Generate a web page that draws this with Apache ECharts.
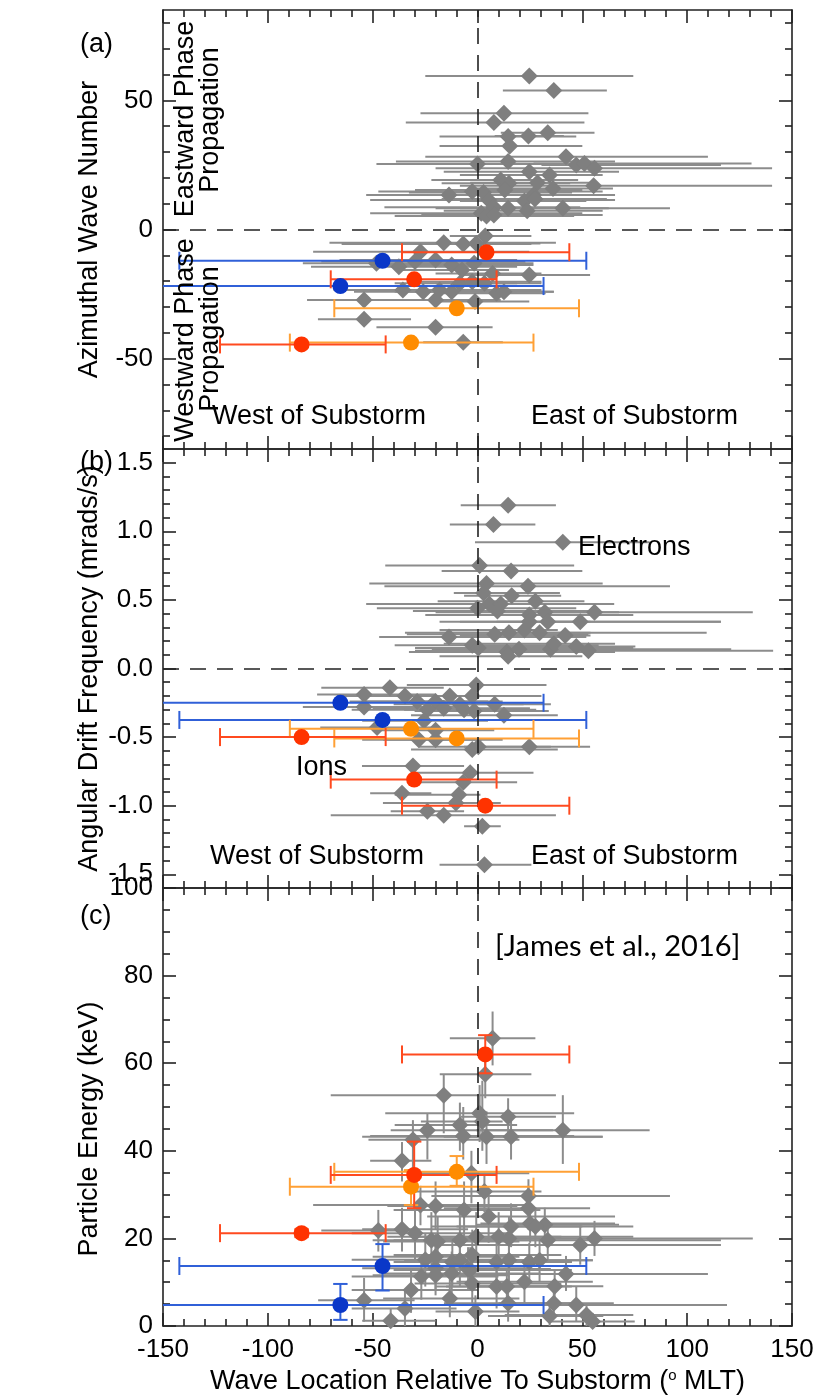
<!DOCTYPE html>
<html>
<head>
<meta charset="utf-8">
<script src="https://cdn.jsdelivr.net/npm/echarts@6/dist/echarts.min.js"></script>
<style>html,body{margin:0;padding:0;background:#fff}#c{width:836px;height:1396px}</style>
</head>
<body>
<div id="c"></div>
<script>
// ---------------- tick values ----------------
const aYMajor = [-50, 0, 50];
const aYMinor = [-80, -70, -60, -40, -30, -20, -10, 10, 20, 30, 40, 60, 70, 80];
const bYMajor = [-1.5, -1.0, -0.5, 0, 0.5, 1.0, 1.5];
const bYMinor = [-1.4, -1.3, -1.2, -1.1, -0.9, -0.8, -0.7, -0.6, -0.4, -0.3, -0.2, -0.1, 0.1, 0.2, 0.3, 0.4, 0.6, 0.7, 0.8, 0.9, 1.1, 1.2, 1.3, 1.4];
const cYMajor = [0, 20, 40, 60, 80, 100];
const cYMinor = [5, 10, 15, 25, 30, 35, 45, 50, 55, 65, 70, 75, 85, 90, 95];

// ---------------- panel (a): [x, y, xLow, xHigh] ----------------
const aGrey = [
  [24.7, 59.4, -24.9, 74.3], [36.4, 53.8, 12.1, 61.7], [12.6, 45.0, -27.2, 52.9], [7.8, 41.4, -34.2, 51.0],
  [14.6, 36.0, -18.1, 47.1], [24.3, 36.2, 8.2, 41.2], [33.5, 37.5, 11.1, 55.8], [15.4, 32.3, -18.1, 50.0],
  [42.2, 28.2, -24.9, 109.9], [0.0, 25.4, -48.2, 74.3], [14.6, 26.3, -38.9, 65.6], [47.1, 25.0, 30.5, 116.1],
  [51.0, 25.6, 26.7, 130.7], [55.8, 23.7, -20.0, 140.5], [24.7, 22.4, -16.1, 67.5], [34.4, 21.1, -8.4, 59.7],
  [11.1, 19.2, -22.0, 48.0], [15.0, 17.9, -17.1, 44.2], [55.4, 16.9, -8.4, 140.5], [28.6, 18.1, -3.5, 55.8],
  [36.0, 15.9, -0.6, 64.6], [-13.6, 13.4, -53.1, 57.8], [-2.5, 14.7, -47.3, 59.7], [2.9, 14.3, -32.7, 45.1],
  [13.0, 15.3, -29.8, 50.0], [26.7, 13.4, -23.9, 65.6], [5.3, 11.4, -51.2, 65.6], [22.4, 11.0, -8.4, 51.9],
  [27.4, 11.8, -17.1, 61.7], [40.7, 8.2, -8.4, 91.8], [7.8, 8.6, -44.4, 49.0], [14.6, 8.2, -20.0, 62.6],
  [23.7, 7.3, -16.1, 59.7], [1.8, 6.3, -51.2, 50.0], [4.3, 5.2, -39.5, 46.1], [7.8, 5.6, -26.8, 59.7],
  [3.7, -2.5, -13.2, 25.7], [-16.1, -5.1, -70.6, 37.4], [-6.8, -5.6, -64.8, 25.7], [-0.6, -5.4, -40.0, 30.0],
  [-27.2, -8.6, -78.4, 24.7], [-48.2, -13.1, -83.3, 26.7], [-37.5, -14.4, -79.4, 18.9], [-29.8, -12.4, -74.5, 22.8],
  [-20.0, -11.8, -65.8, 18.9], [-12.3, -13.7, -47.3, 26.7], [-7.4, -15.7, -35.6, 15.0], [-1.6, -13.1, -31.7, 22.8],
  [7.2, -17.0, -20.0, 30.5], [24.7, -17.6, -6.4, 53.7], [-8.4, -20.8, -39.5, 18.9], [-2.5, -20.2, -31.7, 30.5],
  [3.3, -20.8, -20.0, 30.5], [-35.6, -23.4, -68.7, 13.0], [-25.9, -24.1, -58.9, 18.9], [-18.1, -23.4, -47.3, 30.5],
  [-12.3, -24.1, -39.5, 36.4], [9.1, -24.7, -16.1, 32.5], [12.6, -24.1, -8.4, 36.4], [-54.1, -27.3, -81.3, -20.0],
  [-20.0, -27.3, -47.3, 11.1], [-1.2, -27.9, -20.0, 24.7], [-54.1, -34.8, -76.1, -31.7], [-20.0, -37.9, -48.2, 7.2],
  [-6.8, -43.7, -25.9, 12.1]
];
const aBlue = [[-45.3, -12.1, -142.2, 51.9], [-65.4, -21.9, -160.0, 31.5]];
const aRed = [[4.3, -8.8, -36.0, 43.8], [-30.2, -19.3, -70.0, 9.1], [-83.9, -44.5, -122.8, -43.8]];
const aOrange = [[-9.9, -30.5, -68.3, 48.4], [-31.7, -43.8, -89.5, 26.7]];

// ---------------- panel (b): [x, y, xLow, xHigh] ----------------
const bGrey = [
  [14.6, 1.19, -8.0, 37.4], [7.6, 1.05, -13.2, 27.6], [40.7, 0.92, -1.2, 82.1], [1.0, 0.75, -44.0, 46.1],
  [16.0, 0.71, -17.1, 50.0], [4.3, 0.62, -51.6, 59.7], [24.1, 0.60, -44.4, 91.8], [2.9, 0.55, -11.3, 39.3],
  [16.3, 0.53, -6.4, 39.9], [5.6, 0.47, -53.1, 65.2], [11.1, 0.47, -47.9, 50.0], [27.6, 0.49, -19.0, 51.0],
  [0.0, 0.44, -48.0, 47.1], [9.5, 0.42, -30.8, 55.8], [55.8, 0.41, 30.5, 131.3], [24.7, 0.39, -24.9, 74.3],
  [32.1, 0.41, -20.0, 67.5], [24.7, 0.34, -18.1, 53.9], [33.5, 0.34, -8.4, 116.1], [49.0, 0.34, 9.1, 116.1],
  [-13.6, 0.23, -46.9, 51.9], [8.2, 0.25, -33.7, 52.9], [15.0, 0.26, -34.6, 53.9], [22.4, 0.28, -18.1, 38.3],
  [29.6, 0.26, -18.1, 109.3], [41.8, 0.24, -8.4, 53.9], [-2.5, 0.17, -39.5, 57.8], [0.4, 0.15, -29.8, 74.3],
  [14.0, 0.12, -32.7, 65.6], [19.8, 0.14, -21.8, 63.8], [34.8, 0.14, -18.1, 121.0], [36.4, 0.18, -16.1, 65.6],
  [47.1, 0.16, -0.6, 75.3], [52.9, 0.13, -29.8, 141.0], [14.6, 0.09, -18.1, 50.0],
  [-0.6, -0.12, -33.7, 32.9], [-41.8, -0.14, -74.5, -16.1], [-54.1, -0.19, -76.5, -20.0], [-34.6, -0.20, -66.8, -2.5],
  [-13.2, -0.20, -53.1, 20.8], [-2.5, -0.20, -35.6, 30.5], [-28.8, -0.24, -61.0, 5.0], [-20.0, -0.24, -54.0, 12.0],
  [-8.4, -0.26, -40.0, 22.0], [8.2, -0.26, -20.0, 35.0], [-54.1, -0.28, -83.3, -4.5], [-23.9, -0.30, -60.0, 10.0],
  [-16.1, -0.29, -50.0, 25.0], [-6.4, -0.30, -35.0, 28.0], [-1.6, -0.31, -30.0, 34.0], [12.6, -0.34, -31.7, 38.3],
  [-47.9, -0.43, -75.0, -20.0], [-25.5, -0.38, -55.0, 5.0], [-20.0, -0.45, -50.0, 8.0], [-28.0, -0.52, -55.0, 2.0],
  [-20.0, -0.52, -45.0, 12.0], [-2.5, -0.59, -31.7, 38.3], [0.4, -0.57, -28.0, 35.0], [24.7, -0.57, -6.4, 53.7],
  [-30.8, -0.71, -55.1, -6.4], [-3.5, -0.76, -29.8, 26.7], [-6.8, -0.83, -31.7, 18.9], [-36.0, -0.91, -51.2, -22.0],
  [-8.9, -0.92, -39.5, 1.4], [-10.3, -0.98, -45.1, 11.1], [-23.9, -1.04, -41.4, -6.4], [-16.1, -1.07, -70.0, 37.4],
  [2.3, -1.15, -6.4, 11.1], [3.3, -1.43, -18.1, 25.7]
];
const bBlue = [[-65.4, -0.25, -160.0, 31.5], [-45.3, -0.375, -142.2, 51.9]];
const bRed = [[-83.9, -0.50, -122.8, -43.8], [-30.2, -0.81, -70.0, 9.1], [3.7, -1.0, -36.0, 43.8]];
const bOrange = [[-31.7, -0.44, -89.5, 26.7], [-9.9, -0.51, -68.3, 48.4]];

// ---------------- panel (c): [x, y, xLow, xHigh, yLow, yHigh] ----------------
const cGrey = [
  [7.2, 65.7, -13.2, 27.6, 59.5, 71.8], [3.7, 57.5, -18.0, 25.7, 52.0, 63.0], [-16.1, 52.7, -70.0, 37.4, 44.0, 57.3],
  [1.0, 48.6, -44.0, 46.1, 42.0, 55.0], [14.6, 47.8, -8.0, 37.4, 43.0, 52.0], [2.3, 46.7, -27.0, 12.0, 40.0, 56.0],
  [-23.9, 44.7, -41.4, 36.0, 38.0, 48.5], [-8.4, 45.9, -39.5, 18.9, 40.0, 51.0], [40.7, 44.7, -0.6, 82.1, 37.0, 52.7],
  [-6.8, 43.4, -51.2, 46.1, 38.0, 50.0], [4.3, 43.2, -55.0, 59.7, 37.0, 49.0], [16.0, 43.2, -16.1, 59.7, 38.0, 48.0],
  [-30.8, 42.5, -52.0, 20.0, 35.5, 47.0], [-36.0, 37.7, -51.2, -22.0, 33.0, 42.0], [-2.9, 34.9, -33.7, 24.7, 28.0, 40.0],
  [3.3, 30.7, -31.7, 30.5, 26.0, 35.0], [24.3, 29.7, -22.0, 91.8, 25.0, 33.5], [24.3, 26.9, -16.1, 53.7, 22.0, 32.0],
  [-27.2, 27.6, -78.4, 24.7, 23.0, 32.0], [-20.0, 27.4, -43.0, 19.0, 22.0, 33.0], [-6.4, 26.5, -40.0, 30.0, 20.0, 33.0],
  [5.3, 25.0, -24.0, 65.6, 19.0, 30.0], [-47.3, 21.8, -74.5, -31.7, 17.0, 26.5], [-36.0, 22.1, -55.0, -4.5, 17.0, 27.0],
  [-29.8, 21.2, -60.0, 15.0, 15.0, 27.0], [16.0, 22.7, -22.0, 74.3, 18.0, 28.0], [25.1, 23.4, 1.4, 65.6, 19.0, 28.0],
  [32.1, 23.1, -0.6, 67.5, 19.0, 27.0], [27.6, 22.7, -10.0, 50.0, 18.0, 27.0], [-22.0, 19.6, -50.0, 15.0, 14.0, 26.0],
  [-19.0, 19.3, -45.0, 20.0, 13.0, 25.0], [-8.4, 19.6, -40.0, 35.0, 14.0, 26.0], [-0.6, 20.4, -30.0, 40.0, 15.0, 26.0],
  [10.1, 20.4, -43.0, 74.3, 15.0, 26.0], [15.0, 20.0, -20.0, 55.0, 15.0, 25.0], [33.5, 19.6, -31.7, 116.1, 15.0, 24.0],
  [49.0, 18.5, -20.0, 116.1, 14.0, 23.0], [55.8, 20.0, 30.5, 131.3, 16.0, 24.0], [-24.9, 15.1, -60.0, 15.0, 9.0, 21.0],
  [-20.0, 15.8, -50.0, 20.0, 10.0, 21.0], [-12.0, 14.6, -40.0, 25.0, 9.0, 20.0], [-8.4, 15.0, -35.0, 30.0, 9.0, 21.0],
  [-2.5, 16.2, -40.0, 40.0, 10.0, 22.0], [9.1, 14.6, -30.0, 45.0, 9.0, 20.0], [15.0, 15.0, -25.0, 55.0, 10.0, 20.0],
  [24.7, 14.6, -10.0, 45.0, 10.0, 19.0], [29.6, 15.0, 0.0, 55.0, 10.0, 20.0], [-20.0, 13.2, -55.0, 25.0, 8.0, 18.0],
  [-4.5, 13.0, -35.0, 35.0, 8.0, 18.0], [42.2, 11.9, -24.9, 109.9, 8.0, 16.0], [-26.8, 11.3, -60.0, 10.0, 6.0, 16.0],
  [-20.0, 11.6, -50.0, 15.0, 7.0, 17.0], [-12.3, 12.0, -45.0, 30.0, 7.0, 17.0], [-3.5, 12.8, -40.0, 45.0, 8.0, 18.0],
  [-2.5, 9.7, -30.0, 40.0, 5.0, 14.0], [9.1, 9.0, -20.0, 40.0, 4.0, 14.0], [14.0, 9.0, -15.0, 45.0, 5.0, 13.0],
  [22.4, 10.1, -10.0, 55.0, 5.0, 15.0], [36.8, 9.1, 0.0, 60.0, 5.0, 13.0], [-31.7, 8.2, -60.0, 0.0, 3.0, 13.0],
  [-13.2, 6.3, -45.0, 20.0, 2.0, 11.0], [-54.1, 5.9, -76.0, -30.0, 1.0, 11.0], [-34.6, 4.0, -60.0, -10.0, 0.0, 8.0],
  [14.6, 5.2, -16.0, 45.0, 1.0, 9.0], [36.4, 5.2, 10.0, 65.0, 2.0, 9.0], [47.1, 4.8, 9.1, 119.0, 1.0, 9.0],
  [-1.0, 3.3, -20.0, 20.0, 0.0, 7.0], [-41.4, 1.2, -55.0, -20.0, 0.0, 4.0], [34.4, 2.3, 5.0, 60.0, 0.0, 5.0],
  [52.0, 2.5, 13.0, 74.3, 0.0, 5.0], [54.9, 1.0, 35.0, 75.0, 0.0, 3.0]
];
const cBlue = [[-45.3, 13.7, -142.2, 51.9, 8.1, 18.7], [-65.4, 4.8, -160.0, 31.5, 1.4, 9.6]];
const cRed = [[3.7, 62.0, -36.0, 43.8, 57.7, 66.4], [-30.2, 34.5, -70.0, 9.1, 26.9, 42.1], [-83.9, 21.2, -122.8, -43.8, 20.3, 22.1]];
const cOrange = [[-9.9, 35.2, -68.3, 48.4, 32.0, 38.8], [-31.7, 31.8, -89.5, 26.7, 27.6, 35.6]];

// ---------------- styling ----------------
const FONT = 'Liberation Sans';
const FS = 26;      // tick labels
const FT = 27;      // titles / annotations
const frame = { color: '#222', width: 1.6 };
const GREY_BAR = '#8c8c8c', GREY_PT = '#7f7f7f';
const COLORS = {
  blue: { pt: '#0a37c8', bar: '#3060d8' },
  red: { pt: '#ff3300', bar: '#ff4a1f' },
  orange: { pt: '#ff8c00', bar: '#ffa035' }
};

const grids = [
  { left: 163, top: 10, width: 629, height: 439 },
  { left: 163, top: 449, width: 629, height: 439 },
  { left: 163, top: 888, width: 629, height: 438 }
].map(g => Object.assign(g, { containLabel: false, outerBoundsMode: 'none' }));

const xAxis = [];
const yAxis = [];
function addX(g, showLabel) {
  const base = {
    gridIndex: g, type: 'value', min: -150, max: 150, interval: 50,
    axisLine: { show: true, onZero: false, lineStyle: frame },
    axisTick: { show: true, inside: true, length: 13, lineStyle: frame },
    minorTick: { show: true, splitNumber: 5, length: 7, lineStyle: frame },
    splitLine: { show: false }, minorSplitLine: { show: false }
  };
  xAxis.push(Object.assign({}, base, {
    position: 'bottom',
    axisLabel: { show: showLabel, fontSize: FS, fontFamily: FONT, color: '#000', margin: 11 },
    name: showLabel ? 'Wave Location Relative To Substorm ({s|o} MLT)' : '',
    nameLocation: 'middle', nameGap: 42, nameMoveOverlap: false,
    nameTextStyle: { fontSize: FT, fontFamily: FONT, color: '#000',
      rich: { s: { fontSize: 15, fontFamily: FONT, color: '#000', verticalAlign: 'top' } } }
  }));
  xAxis.push(Object.assign({}, base, { position: 'top', axisLabel: { show: false } }));
}
function addY(g, min, max, major, minor, fmt, name, pad) {
  const common = { gridIndex: g, type: 'value', min, max, splitLine: { show: false } };
  yAxis.push(Object.assign({}, common, {
    position: 'left',
    axisLine: { show: true, onZero: false, lineStyle: frame },
    axisTick: { show: true, inside: true, length: 13, customValues: major, lineStyle: frame },
    axisLabel: { show: true, customValues: major, formatter: fmt, fontSize: FS, fontFamily: FONT, color: '#000', margin: 10 },
    name, nameLocation: 'middle', nameRotate: 90, nameGap: 60, nameMoveOverlap: false,
    nameTextStyle: { fontSize: FT, fontFamily: FONT, color: '#000', padding: pad }
  }));
  yAxis.push(Object.assign({}, common, {
    position: 'left', axisLine: { show: false, onZero: false },
    axisTick: { show: true, inside: true, length: 7, customValues: minor, lineStyle: frame },
    axisLabel: { show: false }
  }));
  yAxis.push(Object.assign({}, common, {
    position: 'right',
    axisLine: { show: true, onZero: false, lineStyle: frame },
    axisTick: { show: true, inside: true, length: 13, customValues: major, lineStyle: frame },
    axisLabel: { show: false }
  }));
  yAxis.push(Object.assign({}, common, {
    position: 'right', axisLine: { show: false, onZero: false },
    axisTick: { show: true, inside: true, length: 7, customValues: minor, lineStyle: frame },
    axisLabel: { show: false }
  }));
}
addX(0, false); addX(1, false); addX(2, true);
addY(0, -85, 85, aYMajor, aYMinor, v => String(v), 'Azimuthal Wave Number', [0, 0, 0, 0]);
addY(1, -1.6, 1.6, bYMajor, bYMinor, v => Number(v).toFixed(1), 'Angular Drift Frequency (mrads/s)', [0, 0, 0, 0]);
addY(2, 0, 100, cYMajor, cYMinor, v => String(v), 'Particle Energy (keV)', [0, 44, 0, 0]);

// ---------------- error-bar renderer ----------------
function makeErr(color, lw, capHalf, hasY) {
  return function (params, api) {
    const cs = params.coordSys;
    const L = cs.x, R = cs.x + cs.width, T = cs.y, B = cs.y + cs.height;
    const x = api.value(0), y = api.value(1);
    const c = api.coord([x, y]);
    let pl = api.coord([api.value(2), y])[0];
    let pr = api.coord([api.value(3), y])[0];
    const st = { stroke: color, lineWidth: lw, fill: null };
    const ch = [];
    const capL = pl >= L - 0.5, capR = pr <= R + 0.5;
    pl = Math.max(pl, L); pr = Math.min(pr, R);
    ch.push({ type: 'line', shape: { x1: pl, y1: c[1], x2: pr, y2: c[1] }, style: st });
    if (capHalf > 0) {
      if (capL) ch.push({ type: 'line', shape: { x1: pl, y1: c[1] - capHalf, x2: pl, y2: c[1] + capHalf }, style: st });
      if (capR) ch.push({ type: 'line', shape: { x1: pr, y1: c[1] - capHalf, x2: pr, y2: c[1] + capHalf }, style: st });
    }
    if (hasY) {
      let pt = api.coord([x, api.value(5)])[1];
      let pb = api.coord([x, api.value(4)])[1];
      const capT = pt >= T - 0.5, capB = pb <= B + 0.5;
      pt = Math.max(pt, T); pb = Math.min(pb, B);
      ch.push({ type: 'line', shape: { x1: c[0], y1: pt, x2: c[0], y2: pb }, style: st });
      if (capHalf > 0) {
        const w = capHalf * 0.8;
        if (capT) ch.push({ type: 'line', shape: { x1: c[0] - w, y1: pt, x2: c[0] + w, y2: pt }, style: st });
        if (capB) ch.push({ type: 'line', shape: { x1: c[0] - w, y1: pb, x2: c[0] + w, y2: pb }, style: st });
      }
    }
    return { type: 'group', children: ch };
  };
}

const series = [];
function addPanel(g, grey, colored, hasY, zeroH) {
  const ax = { xAxisIndex: g * 2, yAxisIndex: g * 4 };
  series.push(Object.assign({
    type: 'scatter', data: [], silent: true, z: 1,
    markLine: {
      silent: true, symbol: ['none', 'none'], label: { show: false }, animation: false,
      lineStyle: { type: [16, 11], color: '#222', width: 1.6 },
      data: zeroH ? [{ xAxis: 0 }, { yAxis: 0 }] : [{ xAxis: 0 }]
    }
  }, ax));
  series.push(Object.assign({
    type: 'custom', renderItem: makeErr(GREY_BAR, 2, 0, hasY), data: grey,
    encode: { x: 0, y: 1 }, silent: true, z: 2
  }, ax));
  series.push(Object.assign({
    type: 'scatter', symbol: 'diamond', symbolSize: 17, data: grey.map(d => [d[0], d[1]]),
    itemStyle: { color: GREY_PT, opacity: 1 }, silent: true, z: 3
  }, ax));
  colored.forEach(([arr, key]) => {
    series.push(Object.assign({
      type: 'custom', renderItem: makeErr(COLORS[key].bar, 2, 9, hasY), data: arr,
      encode: { x: 0, y: 1 }, silent: true, z: 4
    }, ax));
  });
  colored.forEach(([arr, key]) => {
    series.push(Object.assign({
      type: 'scatter', symbol: 'circle', symbolSize: 16, data: arr.map(d => [d[0], d[1]]),
      itemStyle: { color: COLORS[key].pt, opacity: 1 }, silent: true, z: 5
    }, ax));
  });
}
addPanel(0, aGrey, [[aBlue, 'blue'], [aOrange, 'orange'], [aRed, 'red']], false, true);
addPanel(1, bGrey, [[bBlue, 'blue'], [bOrange, 'orange'], [bRed, 'red']], false, true);
addPanel(2, cGrey, [[cBlue, 'blue'], [cOrange, 'orange'], [cRed, 'red']], true, false);

// ---------------- annotations ----------------
function txt(text, x, y, o) {
  o = o || {};
  const al = o.align || 'left';
  return {
    type: 'text', x, y, rotation: o.rot || 0, z: 100, silent: true,
    style: {
      text, fill: '#000', font: (o.size || FT) + 'px "' + (o.family || FONT) + '"',
      textAlign: al, textVerticalAlign: 'middle', align: al, verticalAlign: 'middle'
    }
  };
}
const R90 = Math.PI / 2;
const graphic = { elements: [
  txt('(a)', 80, 45), txt('(b)', 80, 463), txt('(c)', 80, 917),
  txt('Eastward Phase', 186, 119, { rot: R90, align: 'center' }),
  txt('Propagation', 211, 120, { rot: R90, align: 'center' }),
  txt('Westward Phase', 186, 340, { rot: R90, align: 'center' }),
  txt('Propagation', 211, 339, { rot: R90, align: 'center' }),
  txt('West of Substorm', 212, 417), txt('East of Substorm', 531, 417),
  txt('West of Substorm', 210, 857), txt('East of Substorm', 531, 857),
  txt('Electrons', 578, 548), txt('Ions', 296, 768),
  txt('[James et al., 2016]', 495, 947, { family: 'Lato', size: 29 })
] };

const chart = echarts.init(document.getElementById('c'), null, { renderer: 'canvas' });
chart.setOption({
  animation: false, backgroundColor: '#fff',
  grid: grids, xAxis, yAxis, series, graphic
});
</script>
</body>
</html>
